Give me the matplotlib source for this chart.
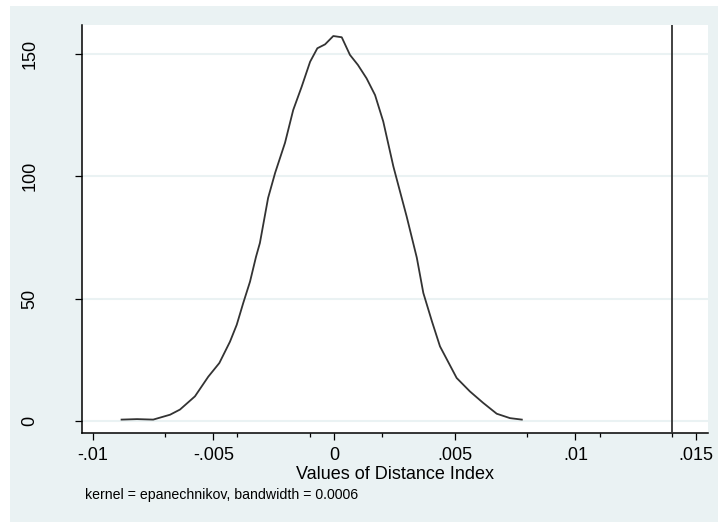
import matplotlib
matplotlib.use("Agg")
import matplotlib.pyplot as plt
from matplotlib.patches import Rectangle
import numpy as np

# Kernel density estimate
x_vals = [-0.00880, -0.00816, -0.00749, -0.00679, -0.00638, -0.00576, -0.00521,
          -0.00475, -0.00431, -0.00403, -0.00376, -0.00348, -0.00323, -0.00307,
          -0.00273, -0.00244, -0.00203, -0.00169, -0.00134, -0.00099, -0.00069,
          -0.00037, -0.00003, 0.00032, 0.00066, 0.00099, 0.00135, 0.00170,
          0.00204, 0.00246, 0.00301, 0.00343, 0.00370, 0.00406, 0.00439,
          0.00508, 0.00563, 0.00617, 0.00674, 0.00729, 0.00778]
density = [0.7, 0.9, 0.7, 2.7, 4.8, 10.2, 18.2,
           23.8, 32.5, 39.4, 48.3, 57.0, 67.2, 72.8,
           91.2, 101.4, 113.7, 127.1, 136.6, 146.8, 152.3,
           153.9, 157.3, 156.8, 149.6, 145.5, 140.0, 133.2,
           122.4, 104.0, 83.6, 66.8, 52.4, 40.7, 30.6,
           17.7, 12.2, 7.6, 3.1, 1.3, 0.7]
vline_x = 0.014

x_ticks = [-0.01, -0.005, 0, 0.005, 0.01, 0.015]
x_ticklabels = ["-.01", "-.005", "0", ".005", ".01", ".015"]
x_minor = [-0.007, -0.004, -0.001, 0.002, 0.008, 0.011, 0.014]
y_ticks = [0, 50, 100, 150]
y_ticklabels = ["0", "50", "100", "150"]

xlabel = "Values of Distance Index"
note = "kernel = epanechnikov, bandwidth = 0.0006"

plt.rcParams['font.family'] = ['Liberation Sans', 'DejaVu Sans']

W, H = 718, 522
fig = plt.figure(figsize=(W / 100, H / 100), dpi=100, facecolor='white')
bg = '#EAF2F3'
fig.patches.append(Rectangle((10 / W, 0), 1 - 10 / W, 1 - 6 / H,
                             transform=fig.transFigure, facecolor=bg,
                             edgecolor='none', zorder=-10))

ax = fig.add_axes([81.5 / W, (H - 433) / H, (707.7 - 81.5) / W, (433 - 25) / H])
ax.set_facecolor('white')

ax.plot(x_vals, density, color='#333333', lw=1.3, zorder=3)
ax.axvline(vline_x, color='#333333', lw=1.3, zorder=3)

ax.set_xlim(-0.01046, 0.01548)
ax.set_ylim(-4.77, 161.8)

ax.set_xticks(x_ticks)
ax.set_xticklabels(x_ticklabels)
ax.set_xticks(x_minor, minor=True)
ax.set_yticks(y_ticks)
ax.set_yticklabels(y_ticklabels, rotation=90, va='center')

ax.tick_params(axis='x', which='major', length=5.2, width=0.9, labelsize=13, pad=5)
ax.tick_params(axis='x', which='minor', length=3, width=0.9)
ax.tick_params(axis='y', which='major', length=5.2, width=0.9, labelsize=13, pad=26)

ax.grid(axis='y', color=bg, lw=1.5, zorder=0)
ax.set_axisbelow(True)

for s in ['top', 'right']:
    ax.spines[s].set_visible(False)
for s in ['left', 'bottom']:
    ax.spines[s].set_linewidth(1.1)
    ax.spines[s].set_color('black')

ax.set_xlabel(xlabel, fontsize=13, labelpad=1)
fig.text(85 / W, 1 - 495 / H, note, fontsize=10.2, ha='left', va='center')

fig.savefig('out.png', dpi=100, facecolor='white')
